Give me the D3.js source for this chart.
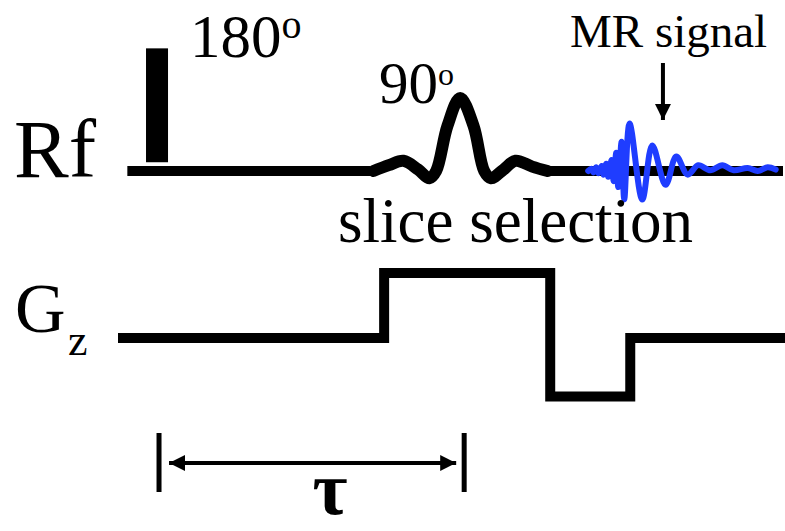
<!DOCTYPE html>
<html>
<head>
<meta charset="utf-8">
<script src="https://cdn.jsdelivr.net/npm/d3@7"></script>
<style>
  body { margin: 0; background: #fff; }
  svg { display: block; }
  text { font-family: "Liberation Serif", "Times New Roman", serif; fill: #000; }
</style>
</head>
<body>
<div id="chart"></div>
<script>
// time axis in arbitrary units (0..100), amplitudes relative to 90 deg pulse peak
var rfBase = [[1.4, 37.8], [64.4, 99.7]];
var pulse180 = { start: 4.2, end: 7.5, low: 0.12, high: 1.68 };

var sincT   = [38.3, 40.6, 42.8, 45.0, 46.7, 47.7, 49.4, 51.3, 53.3, 54.9, 55.9, 57.8, 59.6, 62.1, 64.4];
var sincAmp = [0, 0.08, 0.14, 0.02, -0.1, 0, 0.62, 1, 0.62, 0, -0.1, 0.02, 0.14, 0.06, 0];

// MR signal (echo) - dense build-up then decaying ringing
var echoT   = [70.5, 71.0, 71.3, 71.7, 72.0, 72.5, 72.8, 73.2, 73.5, 74.0, 74.3, 74.7, 75.0, 75.5, 75.9,
               76.7, 78.6, 80.1, 82.1, 83.7, 85.4, 87.0, 88.8, 90.6, 92.3, 94.4, 95.9, 97.4, 98.6];
var echoAmp = [0, 0.03, -0.02, 0.05, -0.03, 0.07, -0.05, 0.1, -0.08, 0.15, -0.14, 0.25, -0.22, 0.4, -0.39,
               0.65, -0.39, 0.35, -0.19, 0.2, -0.05, 0.08, 0.01, 0.08, 0.01, 0.04, 0.0, 0.05, 0.02];

var gzT   = [0, 39.9, 64.8, 76.8, 100];
var gzAmp = [0, 1, -0.9, 0, 0];

var tauT = [6.15, 51.9];
var signalArrowT = 81.7;

var width = 785, height = 531;

var svg = d3.select("#chart").append("svg")
    .attr("width", width)
    .attr("height", height);

var x = d3.scaleLinear().domain([0, 100]).range([118, 785]);
var yRf = d3.scaleLinear().domain([0, 1]).range([171, 98]);
var yGz = d3.scaleLinear().domain([0, 1]).range([338, 273]);

var defs = svg.append("defs");
defs.append("marker")
    .attr("id", "head")
    .attr("viewBox", "0 0 10 10")
    .attr("refX", 10).attr("refY", 5)
    .attr("markerWidth", 4).attr("markerHeight", 4)
    .attr("markerUnits", "strokeWidth")
    .attr("orient", "auto-start-reverse")
  .append("path")
    .attr("d", "M0,0 L10,5 L0,10 z")
    .attr("fill", "#000");

// Rf row
svg.selectAll("line.rfbase")
    .data(rfBase)
  .enter().append("line")
    .attr("class", "rfbase")
    .attr("x1", function(d) { return x(d[0]); })
    .attr("x2", function(d) { return x(d[1]); })
    .attr("y1", yRf(0)).attr("y2", yRf(0))
    .attr("stroke", "#000").attr("stroke-width", 10);

svg.append("rect")
    .attr("x", x(pulse180.start))
    .attr("width", x(pulse180.end) - x(pulse180.start))
    .attr("y", yRf(pulse180.high))
    .attr("height", yRf(pulse180.low) - yRf(pulse180.high))
    .attr("fill", "#000");

var rfLine = d3.line()
    .x(function(d) { return x(d[0]); })
    .y(function(d) { return yRf(d[1]); })
    .curve(d3.curveCatmullRom.alpha(0.5));

svg.append("path")
    .datum(d3.zip(sincT, sincAmp))
    .attr("d", rfLine)
    .attr("fill", "none")
    .attr("stroke", "#000")
    .attr("stroke-width", 12)
    .attr("stroke-linecap", "round")
    .attr("stroke-linejoin", "round");

svg.append("path")
    .datum(d3.zip(echoT, echoAmp))
    .attr("d", rfLine)
    .attr("fill", "none")
    .attr("stroke", "#1f3dff")
    .attr("stroke-width", 6)
    .attr("stroke-linecap", "round")
    .attr("stroke-linejoin", "round");

// MR signal pointer
svg.append("line")
    .attr("x1", x(signalArrowT)).attr("x2", x(signalArrowT))
    .attr("y1", 63).attr("y2", 120)
    .attr("stroke", "#000").attr("stroke-width", 4)
    .attr("marker-end", "url(#head)");

// Gz row
var gzLine = d3.line()
    .x(function(d) { return x(d[0]); })
    .y(function(d) { return yGz(d[1]); })
    .curve(d3.curveStepAfter);

svg.append("path")
    .datum(d3.zip(gzT, gzAmp))
    .attr("d", gzLine)
    .attr("fill", "none")
    .attr("stroke", "#000")
    .attr("stroke-width", 10)
    .attr("stroke-linejoin", "miter");

// tau interval
svg.selectAll("line.tau")
    .data(tauT)
  .enter().append("line")
    .attr("class", "tau")
    .attr("x1", function(d) { return x(d); })
    .attr("x2", function(d) { return x(d); })
    .attr("y1", 433).attr("y2", 492)
    .attr("stroke", "#000").attr("stroke-width", 5);

svg.append("line")
    .attr("x1", x(tauT[0]) + 10).attr("x2", x(tauT[1]) - 8)
    .attr("y1", 463).attr("y2", 463)
    .attr("stroke", "#000").attr("stroke-width", 4)
    .attr("marker-start", "url(#head)")
    .attr("marker-end", "url(#head)");

// labels
svg.append("text").attr("x", 14).attr("y", 177)
    .style("font-size", "82px").text("Rf");

var gz = svg.append("text").attr("x", 15).attr("y", 332).style("font-size", "70px");
gz.append("tspan").text("G");
gz.append("tspan").attr("x", 68).attr("y", 355).style("font-size", "44px").text("z");

var t180 = svg.append("text").attr("x", 190).attr("y", 57).style("font-size", "61px");
t180.append("tspan").text("180");
t180.append("tspan").attr("dy", -19).style("font-size", "40px").text("o");

var t90 = svg.append("text").attr("x", 379).attr("y", 103).style("font-size", "59px");
t90.append("tspan").text("90");
t90.append("tspan").attr("dy", -18).style("font-size", "32px").text("o");

svg.append("text").attr("x", 570).attr("y", 47)
    .style("font-size", "47px").text("MR signal");

svg.append("text").attr("x", 338).attr("y", 242)
    .style("font-size", "63px").text("slice selection");

svg.append("text").attr("x", 330).attr("y", 514)
    .attr("text-anchor", "middle")
    .style("font-size", "76px").style("font-weight", "bold")
    .text("τ");
</script>
</body>
</html>
